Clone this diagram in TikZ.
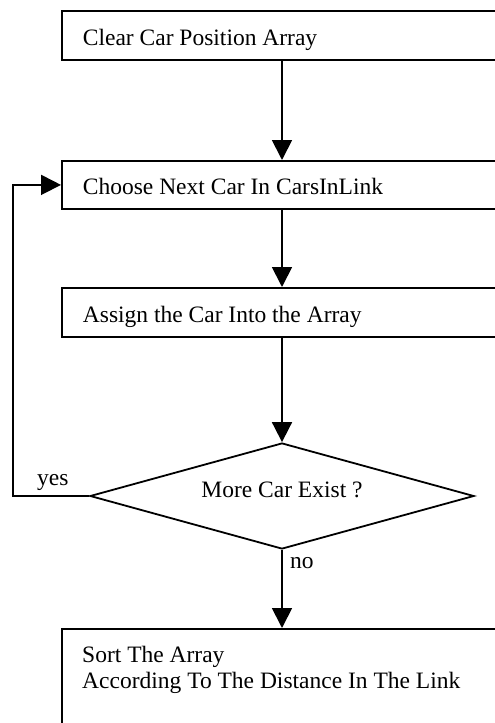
\documentclass[tikz,border=0pt]{standalone}
\usepackage{fontspec}
\setmainfont{Liberation Serif}
\usetikzlibrary{arrows.meta,shapes.geometric}
\begin{document}
\begin{tikzpicture}[x=1pt,y=-1pt,
  font=\fontsize{23.5}{26}\selectfont,
  flow/.style={line width=1.8pt},
  arr/.style={flow,-{Triangle[length=20pt,width=20pt]}},
  stepbox/.style={draw,line width=1.8pt,anchor=north west,minimum width=459pt,
    inner xsep=21pt,inner ysep=0pt,text width=417pt,align=flush left,
    text height=20pt,text depth=0pt},
  decision/.style={draw,line width=1.8pt,diamond,aspect=3.62,inner sep=0pt,
    minimum width=384pt,minimum height=106pt,text height=12pt,text depth=10pt},
  tag/.style={anchor=base west,inner sep=0pt}]
\useasboundingbox (0,0) rectangle (495,723);
\clip (0,0) rectangle (495,723);

% process boxes (they run past the right edge of the sheet)
\node[stepbox,minimum height=49pt] (b1) at (61,10) {Clear Car Position Array};
\node[stepbox,minimum height=48pt] (b2) at (61,160) {Choose Next Car In CarsInLink};
\node[stepbox,minimum height=49pt] (b3) at (61,287) {Assign the Car Into the Array};
\node[decision] (dec) at (282,496) {More Car Exist ?};
\node[draw,line width=1.8pt,anchor=north west,minimum width=459pt,
  minimum height=120pt,inner sep=0pt] (b4) at (61,628) {};
% the base anchor of a two-line node sits on its last line
\node[tag,align=flush left] (b4text) at (82,688)
  {Sort The Array\\According To The Distance In The Link};

% branch labels
\node[tag] (yes) at (37,485) {yes};
\node[tag] (no) at (290,568) {no};

% connectors
\draw[arr] (b1.south -| dec.north) -- (b2.north -| dec.north);
\draw[arr] (b2.south -| dec.north) -- (b3.north -| dec.north);
\draw[arr] (b3.south -| dec.north) -- (dec.north);
\draw[arr] (dec.south) -- (b4.north -| dec.south);
\coordinate (loop) at (13,496);
\draw[arr] (dec.west) -- (loop) |- (b2.west);
\end{tikzpicture}
\end{document}
